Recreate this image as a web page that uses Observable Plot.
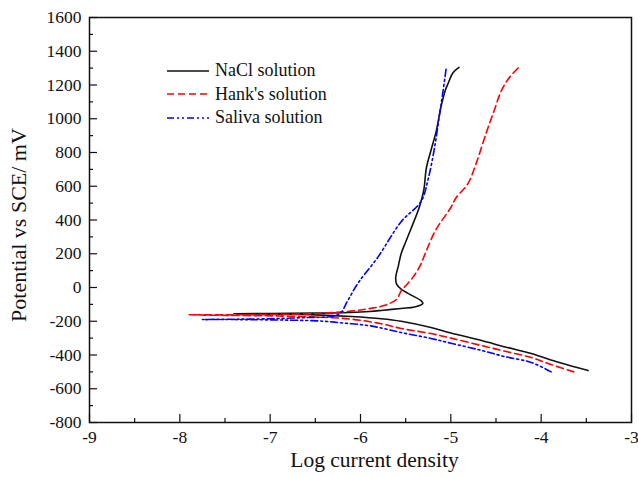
<!DOCTYPE html>
<html>
<head>
<meta charset="utf-8">
<script src="https://cdn.jsdelivr.net/npm/d3@7"></script>
<script src="https://cdn.jsdelivr.net/npm/@observablehq/plot@0.6"></script>
<style>
  html, body { margin: 0; padding: 0; background: #fff; }
  #wrap { position: relative; width: 638px; height: 477px; font-family: "Liberation Serif", "Times New Roman", serif; }
  #legend { position: absolute; left: 166px; top: 59px; font-size: 18px; line-height: 23.5px; color: #111; }
  #legend div { display: flex; align-items: center; height: 23.5px; }
  #legend svg { margin-right: 5px; }
</style>
</head>
<body>
<div id="wrap"></div>
<script>
// Series names and styles
const seriesNames = ["NaCl solution", "Hank's solution", "Saliva solution"];
const seriesColors = ["#111111", "#ff0000", "#0000ff"];
const seriesDash = ["none", "7,4", "7,3,2,3,2,3"];

// NaCl solution (log i, E mV)
const naclX = [-3.48,-3.8,-4.11,-4.4,-4.66,-5.0,-5.22,-5.55,-5.77,-6.1,-6.5,-7.0,-7.4,
  -7.0,-6.5,-6.2,-5.9,-5.77,-5.55,-5.4,-5.31,-5.33,-5.44,-5.55,-5.6,-5.61,-5.58,-5.55,-5.5,-5.44,-5.35,-5.30,-5.27,-5.22,-5.16,-5.11,-5.06,-5.03,-4.98,-4.91];
const naclY = [-492,-445,-391,-352,-314,-270,-237,-200,-185,-172,-162,-158,-156,
  -154,-152,-150,-142,-136,-124,-115,-95,-78,-45,-10,20,59,130,200,270,350,474,575,711,812,930,1067,1170,1209,1270,1304];

// Hank's solution
const hankX = [-3.64,-3.9,-4.11,-4.4,-4.66,-5.0,-5.22,-5.55,-5.77,-6.11,-6.5,-7.0,-7.5,-7.9,
  -7.5,-7.0,-6.5,-6.11,-5.9,-5.74,-5.6,-5.55,-5.5,-5.42,-5.34,-5.27,-5.17,-5.0,-4.94,-4.81,-4.72,-4.61,-4.52,-4.44,-4.36,-4.25];
const hankY = [-500,-455,-415,-378,-344,-300,-273,-243,-215,-187,-175,-168,-165,-162,
  -162,-160,-155,-140,-125,-107,-70,-20,10,60,130,219,338,474,533,616,735,913,1049,1167,1239,1304];

// Saliva solution
const salivaX = [-3.89,-4.11,-4.4,-4.66,-5.0,-5.22,-5.55,-5.77,-5.92,-6.2,-6.47,-7.0,-7.4,-7.75,
  -7.4,-7.0,-6.6,-6.3,-6.22,-6.14,-6.03,-5.81,-5.55,-5.33,-5.25,-5.18,-5.13,-5.09,-5.05];
const salivaY = [-500,-444,-410,-373,-330,-302,-267,-240,-225,-210,-198,-192,-190,-190,
  -188,-185,-178,-170,-150,-77,24,178,390,510,645,830,1007,1150,1304];

// Axis ticks
const xTicks = [-9,-8,-7,-6,-5,-4,-3];
const xMinor = [-8.5,-7.5,-6.5,-5.5,-4.5,-3.5];
const yTicks = [-800,-600,-400,-200,0,200,400,600,800,1000,1200,1400,1600];
const yMinor = [-700,-500,-300,-100,100,300,500,700,900,1100,1300,1500];

const xsAll = [naclX, hankX, salivaX];
const ysAll = [naclY, hankY, salivaY];
const data = [];
seriesNames.forEach((name, s) => {
  xsAll[s].forEach((x, i) => data.push({series: name, x, y: ysAll[s][i], i}));
});

const font = "Liberation Serif, Times New Roman, serif";
const marks = [];
seriesNames.forEach((name, s) => {
  marks.push(Plot.line(data.filter(d => d.series === name), {
    x: "x", y: "y", stroke: seriesColors[s], strokeWidth: 1.6,
    strokeDasharray: seriesDash[s], curve: "catmull-rom"
  }));
});

const chart = Plot.plot({
  width: 638, height: 477,
  marginLeft: 89, marginRight: 7, marginTop: 17, marginBottom: 55,
  style: {fontFamily: font, background: "#fff", color: "#111"},
  x: {domain: [-9, -3]},
  y: {domain: [-800, 1600]},
  marks: [
    ...marks,
    Plot.axisX({ticks: xTicks, tickSize: -8, tickPadding: 16, tickFormat: d => String(d), fontSize: 17.5, label: null, strokeWidth: 1.2}),
    Plot.axisX({ticks: xMinor, tickSize: -4, tickFormat: () => "", label: null, strokeWidth: 1.2}),
    Plot.axisY({ticks: yTicks, tickSize: -8, tickPadding: 16, tickFormat: d => String(d), fontSize: 17.5, label: null, strokeWidth: 1.2}),
    Plot.axisY({ticks: yMinor, tickSize: -4, tickFormat: () => "", label: null, strokeWidth: 1.2}),
    Plot.frame({stroke: "#111", strokeWidth: 1.5}),
    Plot.text(["Log current density"], {text: d => d, frameAnchor: "bottom", dy: 44, dx: 14, fontSize: 21.5, fill: "#111"}),
    Plot.text(["Potential vs SCE/ mV"], {text: d => d, frameAnchor: "left", textAnchor: "middle", rotate: -90, dx: -71, dy: 5, fontSize: 22, fill: "#111"})
  ]
});

const wrap = document.getElementById("wrap");
wrap.appendChild(chart);

const legend = document.createElement("div");
legend.id = "legend";
seriesNames.forEach((name, s) => {
  const row = document.createElement("div");
  row.innerHTML = `<svg width="44" height="6"><line x1="1" y1="3" x2="43" y2="3" stroke="${seriesColors[s]}" stroke-width="1.6" stroke-dasharray="${seriesDash[s]}"/></svg><span>${name.replace("'", "&#39;")}</span>`;
  legend.appendChild(row);
});
wrap.appendChild(legend);
</script>
</body>
</html>
